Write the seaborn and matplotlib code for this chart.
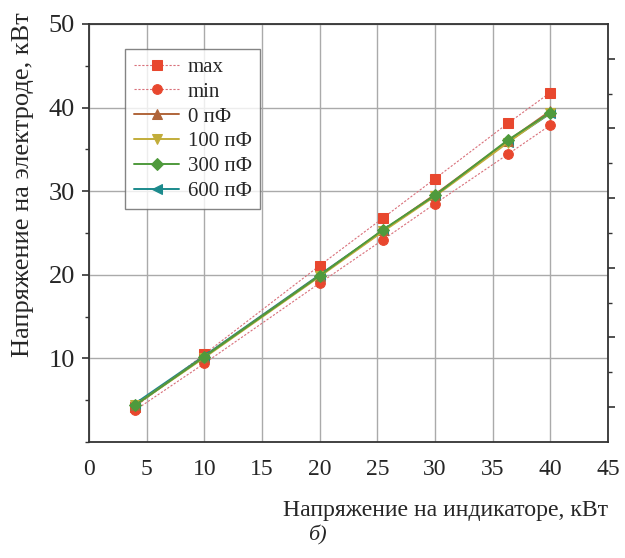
import numpy as np
import pandas as pd
import matplotlib
matplotlib.use("Agg")
import matplotlib.pyplot as plt
from matplotlib.ticker import MultipleLocator, FixedLocator, NullFormatter
import seaborn as sns

# data
x_kv = [4, 10, 20, 25.5, 30, 36.3, 40]
v_max = [4.2, 10.5, 21.1, 26.8, 31.5, 38.1, 41.8]
v_min = [3.8, 9.4, 19.0, 24.2, 28.5, 34.4, 37.9]
v_0 = [4.4, 10.2, 19.9, 25.3, 29.6, 36.0, 39.6]
v_100 = [4.4, 10.1, 19.8, 25.2, 29.4, 35.8, 39.4]
v_300 = [4.4, 10.2, 19.9, 25.4, 29.5, 36.1, 39.4]
v_600 = [4.6, 10.3, 20.0, 25.3, 29.5, 35.9, 39.3]
names = ["max", "min", "0 пФ", "100 пФ", "300 пФ", "600 пФ"]

df = pd.concat([pd.DataFrame({"x": x_kv, "y": v, "series": n})
                for v, n in zip([v_max, v_min, v_0, v_100, v_300, v_600], names)])

sns.set_style("white")
plt.rcParams["font.family"] = ["Liberation Serif", "DejaVu Serif"]

colors = {"max": "#e8472e", "min": "#e8472e", "0 пФ": "#b0653a",
          "100 пФ": "#c2ad3a", "300 пФ": "#4f9a3c", "600 пФ": "#1b8a8c"}
line_colors = {"max": "#d9707a", "min": "#d9707a"}
markers = {"max": "s", "min": "o", "0 пФ": "^", "100 пФ": "v", "300 пФ": "D", "600 пФ": "<"}
draw_order = ["max", "min", "600 пФ", "0 пФ", "100 пФ", "300 пФ"]

fig = plt.figure(figsize=(6.25, 5.58), dpi=100)
ax = fig.add_axes([0.1424, 0.2079, 0.8304, 0.7491])

for n in draw_order:
    d = df[df.series == n]
    dashed = n in ("max", "min")
    sns.lineplot(data=d, x="x", y="y", ax=ax, color=line_colors.get(n, colors[n]),
                 linestyle=(0, (2, 1.5)) if dashed else "-", lw=0.8 if dashed else 1.4,
                 marker=markers[n], markersize=7 if n != "300 пФ" else 6,
                 markerfacecolor=colors[n], markeredgecolor=colors[n], label=n)

ax.set_xlim(0, 45)
ax.set_ylim(0, 50)
ax.set_xticks([0, 5, 10, 15, 20, 25, 30, 35, 40, 45])
ax.set_yticks([10, 20, 30, 40, 50])
ax.xaxis.set_minor_locator(MultipleLocator(2.5))
ax.yaxis.set_minor_locator(MultipleLocator(5))
ax.grid(True, which="major", color="#aaaaaa", lw=1.0)
ax.set_axisbelow(True)

for s in ax.spines.values():
    s.set_color("#333333")
    s.set_linewidth(1.3)

ax.tick_params(which="major", direction="out", length=5, width=1.2, color="#333333")
ax.tick_params(which="minor", direction="out", length=3, width=1.0, color="#333333")
ax.tick_params(axis="x", labelsize=17, pad=7)
ax.tick_params(axis="y", labelsize=19, pad=5)

# right-side ticks (different spacing, as in the source)
axr = ax.twinx()
axr.set_ylim(0, 12)
axr.yaxis.set_major_locator(FixedLocator([1, 3, 5, 7, 9, 11]))
axr.yaxis.set_minor_locator(FixedLocator([2, 4, 6, 8, 10]))
axr.yaxis.set_major_formatter(NullFormatter())
axr.tick_params(which="major", direction="out", length=5, width=1.2, color="#333333")
axr.tick_params(which="minor", direction="out", length=3, width=1.0, color="#333333")
for s in axr.spines.values():
    s.set_visible(False)

ax.set_xlabel("Напряжение на индикаторе, кВт", fontsize=17.1, loc="right")
ax.xaxis.set_label_coords(1.0, -0.165)
ax.xaxis.label.set_va("center")
ax.set_ylabel("Напряжение на электроде, кВт", fontsize=19, loc="top")
ax.yaxis.set_label_coords(-0.127, 1.027)
ax.yaxis.label.set_va("center")

handles, labels = ax.get_legend_handles_labels()
hmap = dict(zip(labels, handles))
leg = ax.legend([hmap[n] for n in names], names, loc="upper left",
                bbox_to_anchor=(0.07, 0.94), fontsize=15, frameon=True,
                fancybox=False, edgecolor="#666666", handlelength=2.2, handletextpad=0.4,
                borderpad=0.4, labelspacing=0.25, borderaxespad=0)
leg.get_frame().set_linewidth(1.0)

fig.text(0.508, 0.04, "б)", fontsize=16, style="italic", ha="center", va="center")

fig.savefig("out.png", dpi=100)
